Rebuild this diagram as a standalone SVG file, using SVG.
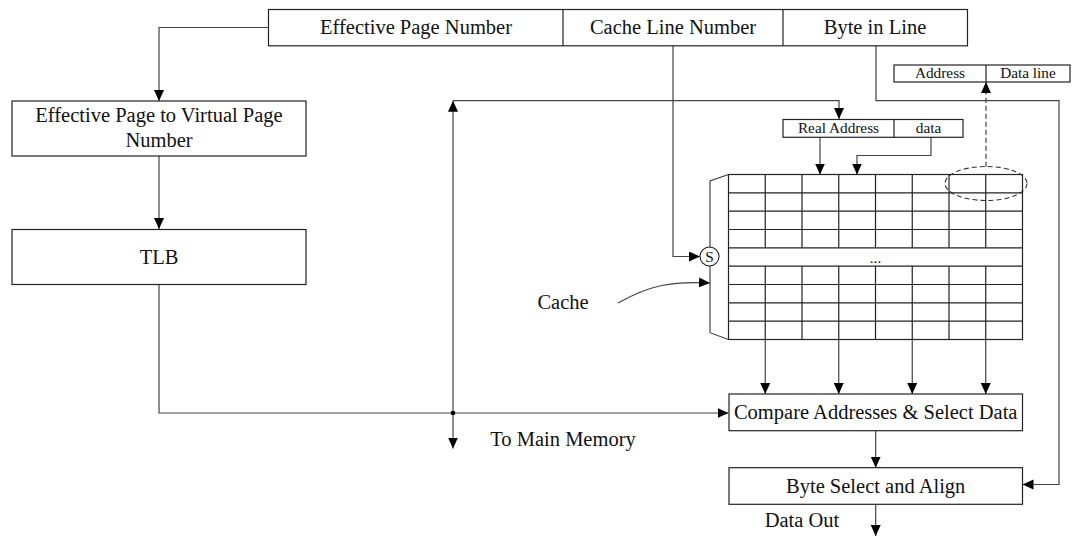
<svg xmlns="http://www.w3.org/2000/svg" width="1073" height="538" viewBox="0 0 1073 538">
<style>
.box{fill:#fff;stroke:#222;stroke-width:1.2}
.ln{fill:none;stroke:#444;stroke-width:1.2}
.t{font-family:"Liberation Serif","Times New Roman",serif;font-size:20.5px;fill:#111;text-anchor:middle}
.s{font-family:"Liberation Serif","Times New Roman",serif;font-size:15.3px;fill:#111;text-anchor:middle}
</style>
<defs>
<marker id="ah" markerUnits="userSpaceOnUse" markerWidth="12" markerHeight="11" refX="11" refY="5" orient="auto">
<path d="M0,0 L11,5 L0,10 z" fill="#000"/>
</marker>
</defs>
<rect width="1073" height="538" fill="#fff"/>

<g id="connectors">
<polyline class="ln" points="268.5,27.5 159,27.5 159,101" marker-end="url(#ah)"/>
<line class="ln" x1="159" y1="156" x2="159" y2="229" marker-end="url(#ah)"/>
<polyline class="ln" points="159,284 159,413 728.5,413" marker-end="url(#ah)"/>
<line class="ln" x1="453" y1="413" x2="453" y2="100.7" marker-end="url(#ah)"/>
<line class="ln" x1="453" y1="413" x2="453" y2="448.5" marker-end="url(#ah)"/>
<circle cx="453" cy="413" r="2.3" fill="#000"/>
<polyline class="ln" points="453,100.7 839,100.7 839,119" marker-end="url(#ah)"/>
<polyline class="ln" points="673,46 673,256.5 700,256.5" marker-end="url(#ah)"/>
<polyline class="ln" points="876,46 876,100.7 1059,100.7 1059,484.5 1022.5,484.5" marker-end="url(#ah)"/>
<line class="ln" x1="820" y1="137.3" x2="820" y2="174.5" marker-end="url(#ah)"/>
<polyline class="ln" points="931,137.3 931,155.5 857,155.5 857,174.5" marker-end="url(#ah)"/>
<line class="ln" x1="986" y1="166.7" x2="986" y2="82" stroke-dasharray="5,3" marker-end="url(#ah)"/>
<path class="ln" d="M618,303 C650,285 672,281 710,283" marker-end="url(#ah)"/>
<line class="ln" x1="765.25" y1="339.5" x2="765.25" y2="394" marker-end="url(#ah)"/>
<line class="ln" x1="838.75" y1="339.5" x2="838.75" y2="394" marker-end="url(#ah)"/>
<line class="ln" x1="912.25" y1="339.5" x2="912.25" y2="394" marker-end="url(#ah)"/>
<line class="ln" x1="985.75" y1="339.5" x2="985.75" y2="394" marker-end="url(#ah)"/>
<line class="ln" x1="875.7" y1="430.7" x2="875.7" y2="467.7" marker-end="url(#ah)"/>
<line class="ln" x1="875.7" y1="504.3" x2="875.7" y2="536" marker-end="url(#ah)"/>
</g>

<g id="address-bar">
<rect class="box" x="268.5" y="9.5" width="699" height="36.3"/>
<line class="box" x1="563" y1="9.5" x2="563" y2="45.8"/>
<line class="box" x1="783" y1="9.5" x2="783" y2="45.8"/>
<text class="t" x="416" y="33.5">Effective Page Number</text>
<text class="t" x="673" y="33.5">Cache Line Number</text>
<text class="t" x="875" y="33.5">Byte in Line</text>
</g>

<g id="ep-to-vp">
<rect class="box" x="12" y="101" width="294" height="55"/>
<text class="t" x="159" y="122">Effective Page to Virtual Page</text>
<text class="t" x="159" y="147">Number</text>
</g>

<g id="tlb">
<rect class="box" x="12" y="229.5" width="294" height="55"/>
<text class="t" x="159" y="263.5">TLB</text>
</g>

<g id="address-dataline">
<rect class="box" x="894" y="65" width="176" height="17"/>
<line class="box" x1="986" y1="65" x2="986" y2="82"/>
<text class="s" x="940" y="78">Address</text>
<text class="s" x="1028" y="78">Data line</text>
</g>

<g id="real-address">
<rect class="box" x="783" y="119.5" width="180" height="17.8"/>
<line class="box" x1="894" y1="119.5" x2="894" y2="137.3"/>
<text class="s" x="838.5" y="133">Real Address</text>
<text class="s" x="928.5" y="133">data</text>
</g>

<g id="cache">
<polyline class="ln" points="728.5,174.5 710,181 710,332.7 728.5,339.5"/>
<rect class="box" x="728.5" y="174.5" width="294" height="165"/>
<g stroke="#222" stroke-width="1.2">
<line x1="728.5" y1="192.83" x2="1022.5" y2="192.83"/>
<line x1="728.5" y1="211.17" x2="1022.5" y2="211.17"/>
<line x1="728.5" y1="229.5" x2="1022.5" y2="229.5"/>
<line x1="728.5" y1="247.83" x2="1022.5" y2="247.83"/>
<line x1="728.5" y1="266.17" x2="1022.5" y2="266.17"/>
<line x1="728.5" y1="284.5" x2="1022.5" y2="284.5"/>
<line x1="728.5" y1="302.83" x2="1022.5" y2="302.83"/>
<line x1="728.5" y1="321.17" x2="1022.5" y2="321.17"/>
<path d="M765.25,174.5V247.83M802,174.5V247.83M838.75,174.5V247.83M875.5,174.5V247.83M912.25,174.5V247.83M949,174.5V247.83M985.75,174.5V247.83"/>
<path d="M765.25,266.17V339.5M802,266.17V339.5M838.75,266.17V339.5M875.5,266.17V339.5M912.25,266.17V339.5M949,266.17V339.5M985.75,266.17V339.5"/>
</g>
<text class="s" x="875.5" y="263">...</text>
<ellipse cx="986" cy="183.5" rx="41" ry="17" fill="none" stroke="#333" stroke-width="1.1" stroke-dasharray="5,3"/>
<circle cx="709.5" cy="256.5" r="9.5" fill="#fff" stroke="#222" stroke-width="1.1"/>
<text class="s" x="709.5" y="262">S</text>
<text class="t" x="563" y="309">Cache</text>
</g>

<g id="compare">
<rect class="box" x="729" y="394" width="293.5" height="36.7"/>
<text class="t" x="875.7" y="418.5">Compare Addresses &amp; Select Data</text>
</g>

<g id="byte-select">
<rect class="box" x="729" y="467.7" width="293.5" height="36.6"/>
<text class="t" x="875.7" y="492.5">Byte Select and Align</text>
</g>

<g id="labels">
<text class="t" x="563" y="446">To Main Memory</text>
<text class="t" x="802" y="527">Data Out</text>
</g>
</svg>
